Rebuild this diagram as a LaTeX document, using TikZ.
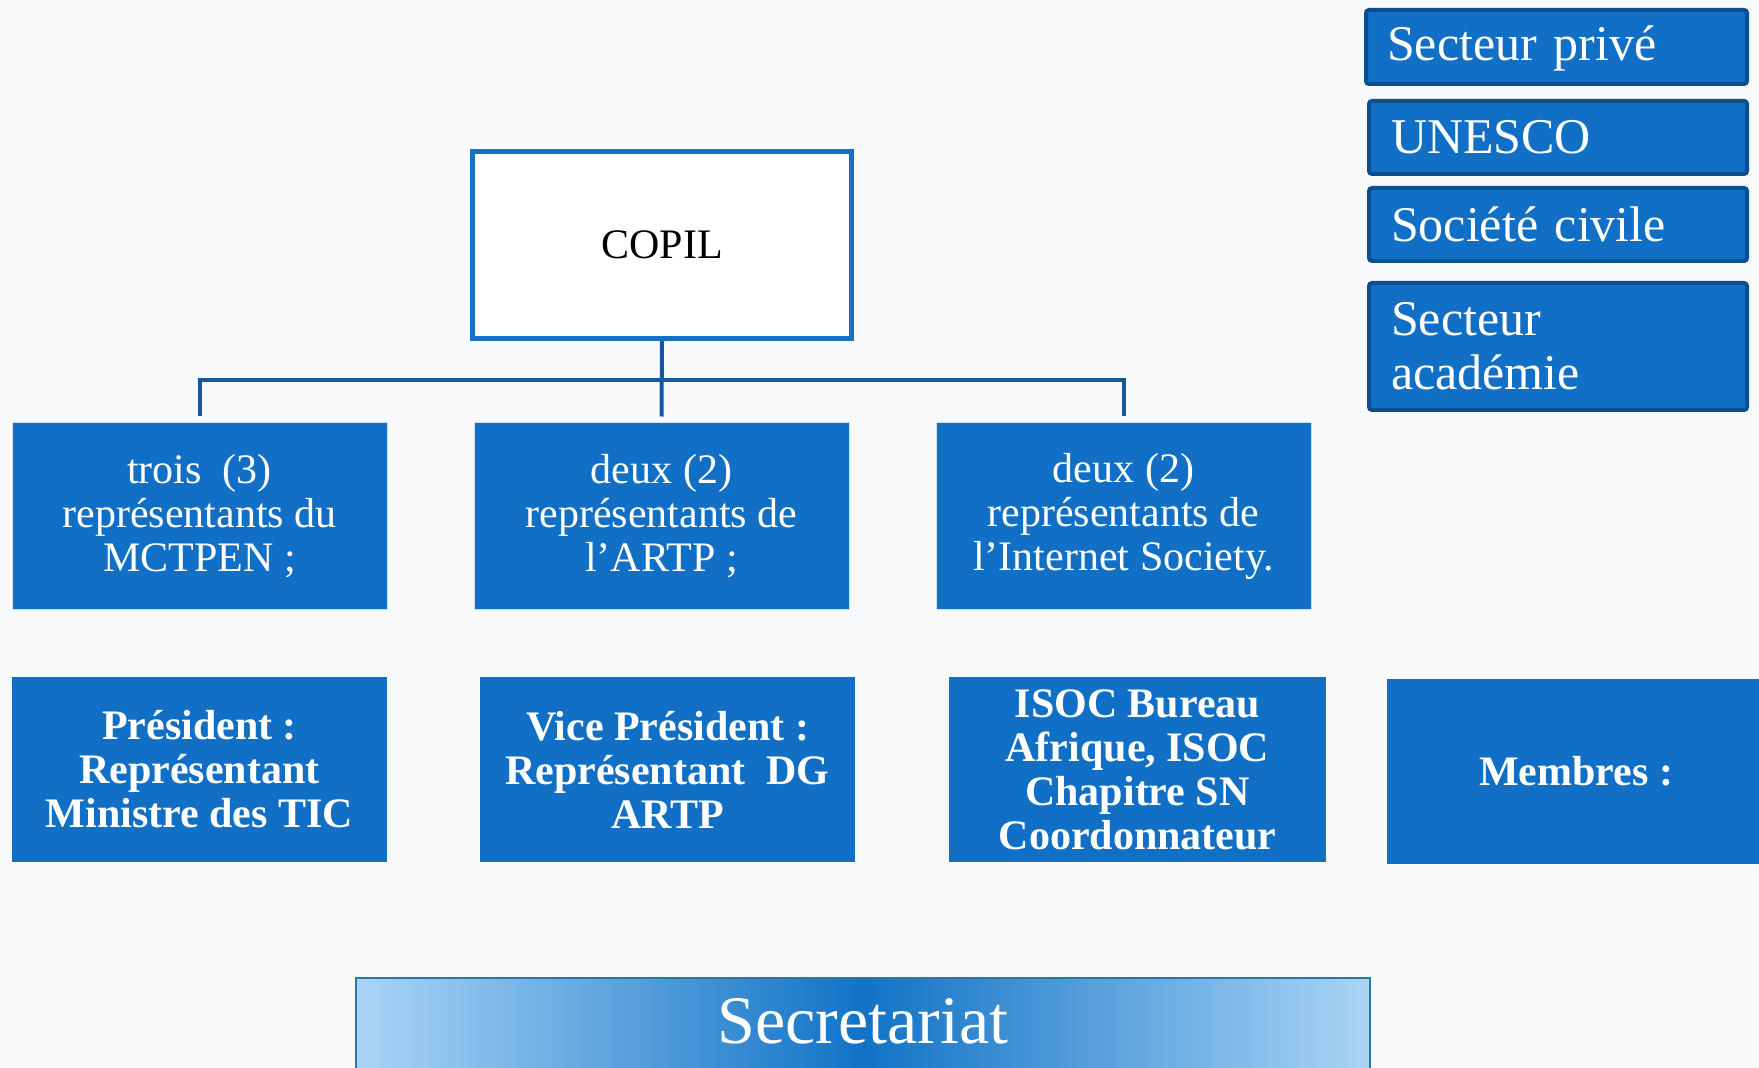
\documentclass[tikz,border=0pt]{standalone}
\usepackage{fontspec}
\setmainfont{Liberation Serif}
\usetikzlibrary{calc}
\definecolor{boxblue}{RGB}{17,112,198}
\definecolor{edgeblue}{RGB}{13,78,142}
\definecolor{linkblue}{RGB}{22,88,152}
\definecolor{copilblue}{RGB}{21,112,198}
\definecolor{bgc}{RGB}{248,249,250}
\definecolor{seclight}{RGB}{170,213,246}
\definecolor{secdark}{RGB}{17,115,198}
\definecolor{secedge}{RGB}{38,120,165}
\definecolor{paleedge}{RGB}{205,225,243}
\begin{document}
\begin{tikzpicture}[x=0.5pt,y=-0.5pt,
  bluebox/.style={fill=boxblue, draw=paleedge, line width=0.5pt, text=white, align=center, inner sep=0pt,
    minimum width=187.5pt, minimum height=93pt, font=\fontsize{21}{22}\selectfont},
  boldbox/.style={bluebox, draw=none, minimum height=92.5pt, font=\fontsize{21}{22}\selectfont\bfseries},
  sidebox/.style={fill=boxblue, draw=edgeblue, line width=2pt, rounded corners=1.5pt, text=white, align=left,
    inner xsep=11pt, inner ysep=0pt, minimum width=189pt, text width=167pt, font=\fontsize{25}{27}\selectfont},
  conn/.style={draw=linkblue, line width=2pt}]
\fill[bgc] (0,0) rectangle (1759,1068);
\useasboundingbox (0,0) rectangle (1759,1068);

% COPIL
\node[draw=copilblue, line width=2.5pt, fill=white, minimum width=189.5pt, minimum height=93.5pt,
  font=\fontsize{21}{22}\selectfont] (copil) at (662,245) {COPIL};

% first row
\node[bluebox] (r1) at (199.5,516) {trois~~(3)\\représentants du\\MCTPEN ;};
\node[bluebox] (r2) at (661.5,516) {deux (2)\\représentants de\\l’ARTP ;};
\node[bluebox] (r3) at (1123.5,516) {deux (2)\\représentants de\\l’Internet Society.};

% connectors
\coordinate (bus) at (662,380);
\draw[conn] (copil.south) -- ([yshift=3pt]r2.north);
\draw[conn] ([yshift=3pt]r1.north) -- (r1.north |- bus) -- (r3.north |- bus) -- ([yshift=3pt]r3.north);

% second row
\node[boldbox] (b1) at (199.5,769.5) {Président :\\Représentant\\Ministre des TIC};
\node[boldbox] (b2) at (667.5,769.5) {Vice Président :\\Représentant~~DG\\ARTP};
\node[boldbox, minimum width=188.5pt] (b3) at (1137.5,769.5) {ISOC Bureau\\Afrique, ISOC\\Chapitre SN\\Coordonnateur};
\node[boldbox, minimum width=189pt] (b4) at (1576,771.5) {Membres :};

% side boxes
\node[sidebox, minimum width=190.5pt, text width=169.5pt, inner xsep=10.5pt, minimum height=37pt, text height=18.5pt] (s1) at (1556.5,47) {Secteur privé};
\node[sidebox, minimum height=36.5pt] (s2) at (1558,137.5) {UNESCO};
\node[sidebox, minimum height=36.5pt] (s3) at (1558,224.5) {Société civile};
\node[sidebox, minimum height=63.5pt] (s4) at (1558,346.5) {Secteur\\académie};

% secretariat
\node[draw=secedge, line width=1pt, left color=seclight, right color=seclight, middle color=secdark,
  minimum width=507pt, minimum height=51pt, inner sep=0pt, text=white, text depth=8.5pt,
  font=\fontsize{34}{36}\selectfont] (sec) at (863,1029) {Secretariat};
\end{tikzpicture}
\end{document}
